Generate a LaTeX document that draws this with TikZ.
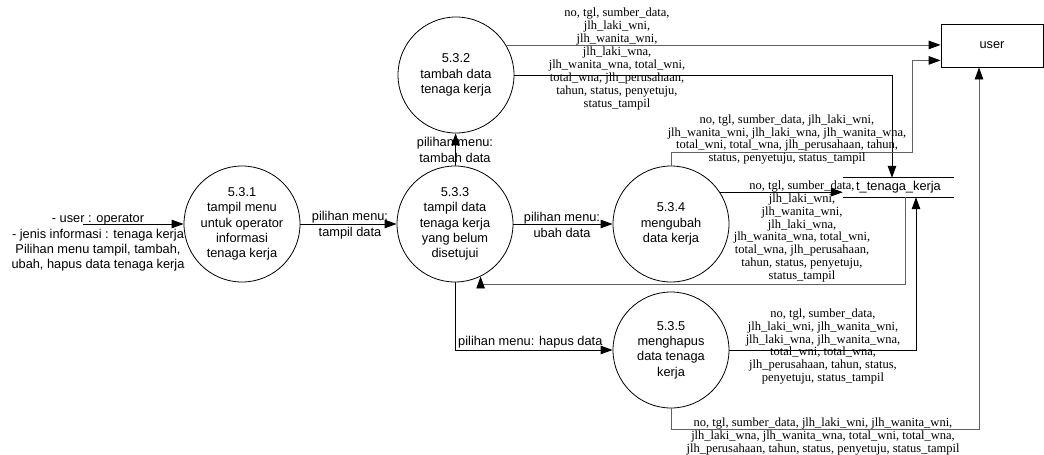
\documentclass[tikz,border=0pt]{standalone}
\usepackage{fontspec}
\setmainfont{Liberation Sans}
\newfontfamily\dataserif{Liberation Serif}
\usetikzlibrary{arrows.meta,calc}
\begin{document}
\begin{tikzpicture}[x=1pt,y=-1pt,
  sans/.style={font=\fontsize{12.8}{15.4}\selectfont},
  proc/.style={draw,circle,minimum size=116pt,inner sep=0pt,align=center,sans,line width=0.8pt},
  ent/.style={draw,minimum width=102pt,minimum height=43pt,inner sep=0pt,sans,line width=0.8pt},
  store/.style={minimum width=111pt,minimum height=19pt,inner sep=0pt,sans},
  flow/.style={line width=0.8pt,-{Triangle[length=12pt,width=8.5pt,color=black]}},
  gflow/.style={flow,draw=black!62},
  lbl/.style={align=center,inner sep=0pt,sans},
  dlbl/.style={align=center,inner sep=0pt,font=\dataserif\fontsize{12.5}{12.9}\selectfont}]
\useasboundingbox (0,0) rectangle (1044,455);

% nodes
\node[ent] (user) at (992,45.5) {user};
\node[proc] (p532) at (456,75) {5.3.2\\tambah data\\tenaga kerja};
\node[proc] (p531) at (242,224) {5.3.1\\tampil menu\\untuk operator\\informasi\\tenaga kerja};
\node[proc] (p533) at (455,224) {5.3.3\\tampil data\\tenaga kerja\\yang belum\\disetujui};
\node[proc] (p534) at (671,224) {5.3.4\\mengubah\\data kerja};
\node[proc] (p535) at (671,350) {5.3.5\\menghapus\\data tenaga\\kerja};
\node[store] (ds) at (898.5,187.5) {t\_tenaga\_kerja};
\draw[line width=0.8pt] (ds.north west) -- (ds.north east) (ds.south west) -- (ds.south east);
\coordinate (src) at (83,224);

% flows
\draw[flow] (src) -- (p531);
\node[lbl] (l1) at (98,243) {- user : operator\\- jenis informasi : tenaga kerja\\Pilihan menu tampil, tambah,\\ubah, hapus data tenaga kerja};

\draw[flow] (p531) -- (p533);
\node[lbl] (l2) at (350,225) {pilihan menu:\\tampil data};

\draw[flow] (p533) -- (p532);
\node[lbl] (l3) at (455,150) {pilihan menu:\\tambah data};

\draw[flow] (p533) -- (p534);
\node[lbl] (l4) at (562,225) {pilihan menu:\\ubah data};

\draw[flow] (p533.south) |- (p535.west);
\node[lbl,anchor=west] (l5) at (458,342) {pilihan menu: hapus data};

\draw[gflow] (p532.31) -- (p532.31 -| user.west);
\draw[flow] (p532.east) -| ([xshift=-6.5pt]ds.north);
\node[dlbl] (l6) at (617,59) {no, tgl, sumber\_data,\\jlh\_laki\_wni,\\jlh\_wanita\_wni,\\jlh\_laki\_wna,\\jlh\_wanita\_wna, total\_wni,\\total\_wna, jlh\_perusahaan,\\tahun, status, penyetuju,\\status\_tampil};

\draw[gflow] (p534.north) |- (912,152) |- ([yshift=7pt]user.south west);
\node[dlbl] (l7) at (787,139.5) {no, tgl, sumber\_data, jlh\_laki\_wni,\\jlh\_wanita\_wni, jlh\_laki\_wna, jlh\_wanita\_wna,\\total\_wni, total\_wna, jlh\_perusahaan, tahun,\\status, penyetuju, status\_tampil};

\draw[flow] (p534.33.5) -- (p534.33.5 -| ds.west);
\node[dlbl] (l8) at (802,231.5) {no, tgl, sumber\_data,\\jlh\_laki\_wni,\\jlh\_wanita\_wni,\\jlh\_laki\_wna,\\jlh\_wanita\_wna, total\_wni,\\total\_wna, jlh\_perusahaan,\\tahun, status, penyetuju,\\status\_tampil};

\draw[gflow] ([xshift=6.5pt]ds.south) |- ([yshift=-8pt]p533.-64.4) -- (p533.-64.4);

\draw[flow] (p535.east) -| ([xshift=17.5pt]ds.south);
\node[dlbl] (l9) at (823,346.5) {no, tgl, sumber\_data,\\jlh\_laki\_wni, jlh\_wanita\_wni,\\jlh\_laki\_wna, jlh\_wanita\_wna,\\total\_wni, total\_wna,\\jlh\_perusahaan, tahun, status,\\penyetuju, status\_tampil};

\draw[gflow] (p535.south) -- ++(0,21) -| ([xshift=-13pt]user.south);
\node[dlbl] (l10) at (823,436.5) {no, tgl, sumber\_data, jlh\_laki\_wni, jlh\_wanita\_wni,\\jlh\_laki\_wna, jlh\_wanita\_wna, total\_wni, total\_wna,\\jlh\_perusahaan, tahun, status, penyetuju, status\_tampil};
\end{tikzpicture}
\end{document}
